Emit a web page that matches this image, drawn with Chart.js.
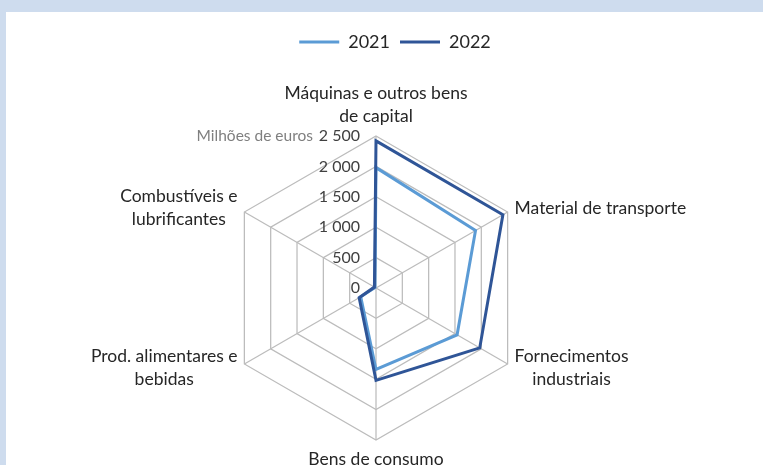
<!DOCTYPE html>
<html>
<head>
<meta charset="utf-8">
<script src="https://cdn.jsdelivr.net/npm/chart.js@4.4.1/dist/chart.umd.min.js"></script>
<style>
  html, body { margin: 0; padding: 0; width: 763px; height: 465px; overflow: hidden; background: #cedcee; }
  #panel { position: absolute; left: 6px; top: 12px; right: 0; bottom: 0; background: #ffffff; }
  #c { position: absolute; left: 0; top: 0; }
</style>
</head>
<body>
<div id="panel"></div>
<canvas id="c" width="763" height="465"></canvas>
<script>
// ---- data ----
const categories = [
  ['Máquinas e outros bens', 'de capital'],
  ['Material de transporte'],
  ['Fornecimentos', 'industriais'],
  ['Bens de consumo'],
  ['Prod. alimentares e', 'bebidas'],
  ['Combustíveis e', 'lubrificantes']
];
const seriesNames = ['2021', '2022'];
const values2021 = [1980, 1890, 1540, 1340, 290, 20];
const values2022 = [2420, 2410, 1970, 1520, 320, 30];
const tickLabels = ['0', '500', '1 000', '1 500', '2 000', '2 500'];
const unitLabel = 'Milhões de euros';

const FONT = 'Lato';
const LABEL_SIZE = 17.5;
const TICK_SIZE = 16;
const UNIT_SIZE = 15.5;
const LEGEND_SIZE = 18;

const labelPlugin = {
  id: 'radarText',
  afterDatasetsDraw(chart) {
    const s = chart.scales.r;
    const ctx = chart.ctx;
    ctx.save();
    ctx.textBaseline = 'middle';
    // tick labels, left of the vertical axis
    ctx.font = TICK_SIZE + 'px ' + FONT;
    ctx.textAlign = 'right';
    ctx.fillStyle = '#404040';
    s.ticks.forEach((t, i) => {
      const d = s.getDistanceFromCenterForValue(t.value);
      ctx.fillText(tickLabels[i], s.xCenter - 16, s.yCenter - d);
    });
    // unit label
    ctx.font = UNIT_SIZE + 'px ' + FONT;
    ctx.fillStyle = '#7f7f7f';
    ctx.fillText(unitLabel, s.xCenter - 63, s.yCenter - s.drawingArea);
    // category labels
    ctx.font = LABEL_SIZE + 'px ' + FONT;
    ctx.fillStyle = '#262626';
    ctx.textAlign = 'center';
    const LH = 23;
    categories.forEach((lines, i) => {
      const p = s.getPointPosition(i, s.drawingArea + 8);
      const deg = Math.round(s.getIndexAngle(i) * 180 / Math.PI) % 360;
      const H = lines.length * LH;
      const W = Math.max(...lines.map(l => ctx.measureText(l).width));
      let cx, top;
      if (deg === 0) { cx = p.x; top = p.y - H; }
      else if (deg === 180) { cx = p.x; top = p.y; }
      else if (deg < 180) { cx = p.x + W / 2; top = p.y - H / 2; }
      else { cx = p.x - W / 2; top = p.y - H / 2; }
      lines.forEach((l, k) => ctx.fillText(l, cx, top + LH * (k + 0.5)));
    });
    ctx.restore();
  }
};

new Chart(document.getElementById('c'), {
  type: 'radar',
  data: {
    labels: categories,
    datasets: [
      { label: seriesNames[0], data: values2021, borderColor: '#5b9bd5', backgroundColor: '#5b9bd5',
        borderWidth: 3, pointRadius: 0, pointHoverRadius: 0, fill: false, borderCapStyle: 'round', order: 1 },
      { label: seriesNames[1], data: values2022, borderColor: '#2f5597', backgroundColor: '#2f5597',
        borderWidth: 3, pointRadius: 0, pointHoverRadius: 0, fill: false, borderCapStyle: 'round', order: 0 }
    ]
  },
  options: {
    responsive: false,
    animation: false,
    devicePixelRatio: 1,
    layout: { padding: { top: 23, bottom: 25, left: 27, right: 0 } },
    scales: {
      r: {
        min: 0, max: 2500,
        ticks: { stepSize: 500, display: false },
        pointLabels: { display: false },
        grid: { color: '#bcbcbc', lineWidth: 1.25 },
        angleLines: { color: '#bcbcbc', lineWidth: 1.25 }
      }
    },
    plugins: {
      legend: {
        position: 'top',
        labels: {
          usePointStyle: true, pointStyle: 'line', pointStyleWidth: 40,
          font: { family: FONT, size: LEGEND_SIZE }, color: '#262626', padding: 10,
          sort: (a, b) => a.datasetIndex - b.datasetIndex
        }
      },
      title: { display: true, text: '', padding: 0, weight: 0, font: { size: 10, lineHeight: '75px' } },
      subtitle: { display: true, text: '', position: 'right', fullSize: false, padding: 0, font: { size: 10, lineHeight: '38px' } },
      tooltip: { enabled: false }
    }
  },
  plugins: [labelPlugin]
});
</script>
</body>
</html>
